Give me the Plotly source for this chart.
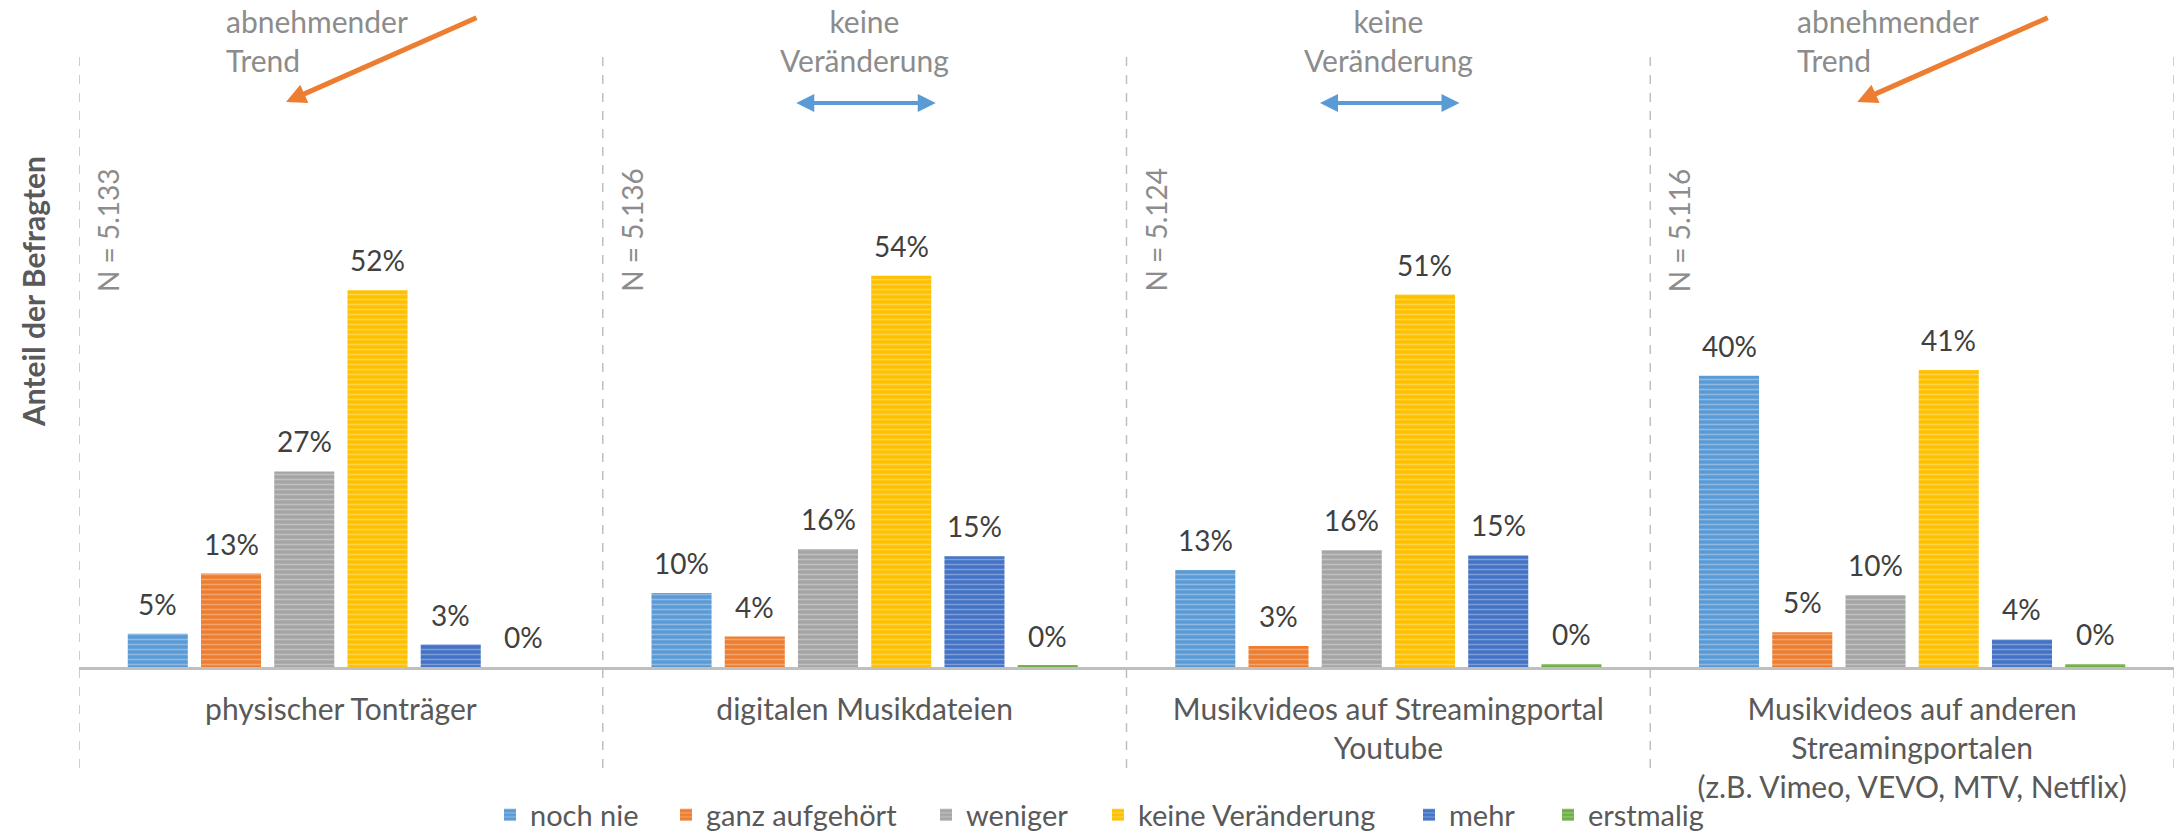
import plotly.graph_objects as go

# ---------------- data ----------------
categories = [
    "physischer Tonträger",
    "digitalen Musikdateien",
    "Musikvideos auf Streamingportal<br>Youtube",
    "Musikvideos auf anderen<br>Streamingportalen<br>(z.B. Vimeo, VEVO, MTV, Netflix)",
]
series_names = ["noch nie", "ganz aufgehört", "weniger", "keine Veränderung", "mehr", "erstmalig"]
noch_nie = [4.6, 10.2, 13.4, 40.2]
ganz_aufgehoert = [12.9, 4.2, 2.9, 4.8]
weniger = [27.0, 16.3, 16.1, 9.9]
keine_veraenderung = [52.0, 54.0, 51.4, 41.0]
mehr = [3.1, 15.3, 15.4, 3.8]
erstmalig = [0.0, 0.2, 0.4, 0.4]
sample_sizes = ["5.133", "5.136", "5.124", "5.116"]
trend_labels = ["abnehmender<br>Trend", "keine<br>Veränderung", "keine<br>Veränderung", "abnehmender<br>Trend"]
trend_kind = ["down", "flat", "flat", "down"]
colors = ["#5B9BD5", "#ED7D31", "#A5A5A5", "#FFC000", "#4472C4", "#70AD47"]

series_values = [noch_nie, ganz_aufgehoert, weniger, keine_veraenderung, mehr, erstmalig]

# ---------------- layout geometry ----------------
W, H = 2178, 834
ML, MR, MT, MB = 79, 4, 47, 167
PW = W - ML - MR
PH = H - MT - MB
BASE = H - MB
PX_PER_PCT = 7.245
YMAX = PH / PX_PER_PCT
BARGAP = 0.161
BARGROUPGAP = 0.18
FONT = "Lato"
# horizontal pixel centre of each legend swatch
LEGEND_SWATCH_X = [518, 694, 954, 1126, 1437, 1576]
LEGEND_Y = 815


def px(x):
    return (x - ML) / PW


def py(y):
    return (BASE - y) / PH


panel_w = PW / len(categories)

fig = go.Figure()
legend_layouts = {}
for k, (name, vals, col) in enumerate(zip(series_names, series_values, colors)):
    lg = "legend" if k == 0 else f"legend{k + 1}"
    fig.add_trace(go.Bar(
        name=name,
        x=list(range(len(categories))),
        y=vals,
        legend=lg,
        marker=dict(
            color=col,
            line=dict(width=0),
            pattern=dict(shape="-", fgcolor="rgba(255,255,255,0.6)", size=5, solidity=0.3),
        ),
        hoverinfo="skip",
    ))
    legend_layouts[lg] = dict(
        orientation="h", xref="container", yref="container",
        x=(LEGEND_SWATCH_X[k] - 28) / W, xanchor="left",
        y=(H - LEGEND_Y) / H, yanchor="middle",
        font=dict(family=FONT, size=29, color="#595959"),
        bgcolor="rgba(0,0,0,0)",
    )

annotations = []
slot = (1 - BARGAP) / len(series_names)
for j, vals in enumerate(series_values):
    for i, v in enumerate(vals):
        annotations.append(dict(
            x=i + (j - (len(series_names) - 1) / 2) * slot, y=v, xref="x", yref="y",
            text=f"{v:.0f}%", showarrow=False, xanchor="center", yanchor="middle", yshift=30,
            font=dict(family=FONT, size=28, color="#404040"),
        ))

# y axis title
annotations.append(dict(
    x=px(33), y=py(292), xref="paper", yref="paper", text="<b>Anteil der Befragten</b>",
    textangle=-90, showarrow=False, xanchor="center", yanchor="middle",
    font=dict(family=FONT, size=30, color="#595959"),
))

shapes = []
for i in range(len(categories) + 1):
    shapes.append(dict(
        type="line", xref="x", yref="paper", x0=i - 0.5, x1=i - 0.5,
        y0=py(768), y1=py(48), line=dict(color="#BFBFBF", width=1.5, dash="dash"),
    ))

for i in range(len(categories)):
    left = ML + i * panel_w
    # N label
    annotations.append(dict(
        x=px(left + 29), y=py(230), xref="paper", yref="paper", text=f"N = {sample_sizes[i]}",
        textangle=-90, showarrow=False, xanchor="center", yanchor="middle",
        font=dict(family=FONT, size=28, color="#8C8C8C"),
    ))
    if trend_kind[i] == "down":
        annotations.append(dict(
            x=px(left + 145), y=py(41), xref="paper", yref="paper", text=trend_labels[i],
            align="left", xanchor="left", yanchor="middle", showarrow=False,
            font=dict(family=FONT, size=30, color="#8C8C8C"),
        ))
        annotations.append(dict(
            x=px(left + 207), y=py(102), xref="paper", yref="paper", text="",
            showarrow=True, ax=192, ay=-85, arrowhead=2, arrowwidth=5, arrowsize=0.8,
            arrowcolor="#ED7D31", standoff=0, startstandoff=0,
        ))
    else:
        annotations.append(dict(
            x=px(left + panel_w / 2), y=py(40), xref="paper", yref="paper", text=trend_labels[i],
            align="center", xanchor="center", yanchor="middle", showarrow=False,
            font=dict(family=FONT, size=30, color="#8C8C8C"),
        ))
        annotations.append(dict(
            x=px(left + 333), y=py(103), xref="paper", yref="paper", text="",
            showarrow=True, ax=-141, ay=0, arrowhead=2, arrowside="end+start",
            arrowwidth=4, arrowsize=0.9, arrowcolor="#5B9BD5", standoff=0, startstandoff=0,
        ))

fig.update_layout(
    width=W, height=H,
    margin=dict(l=ML, r=MR, t=MT, b=MB, autoexpand=False),
    paper_bgcolor="white", plot_bgcolor="white",
    barmode="group", bargap=BARGAP, bargroupgap=BARGROUPGAP,
    font=dict(family=FONT, size=28, color="#595959"),
    xaxis=dict(
        type="linear", range=[-0.5, len(categories) - 0.5],
        tickmode="array", tickvals=list(range(len(categories))), ticktext=categories,
        showline=True, linecolor="#BFBFBF", linewidth=3, showgrid=False, zeroline=False,
        ticks="", ticklabelstandoff=14, automargin=False,
        tickfont=dict(family=FONT, size=30, color="#595959"),
    ),
    yaxis=dict(range=[0, YMAX], visible=False, automargin=False),
    showlegend=True,
    annotations=annotations,
    shapes=shapes,
    **legend_layouts,
)

fig.write_html(
    "out.html",
    config={"displayModeBar": False},
    post_script="document.body.style.margin='0';document.body.style.padding='0';",
)
